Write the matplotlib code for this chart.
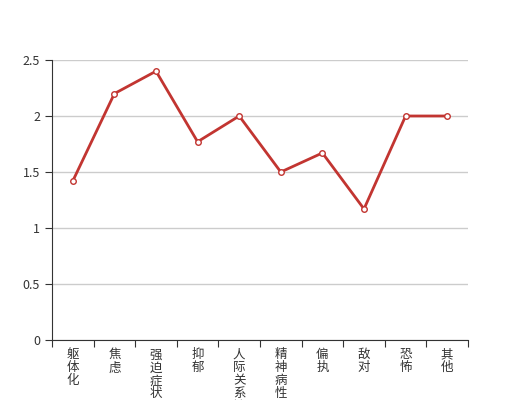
import matplotlib
matplotlib.use('Agg')
import matplotlib.pyplot as plt

plt.rcParams['font.family'] = ['Noto Sans CJK SC', 'DejaVu Sans']

categories = ['躯体化', '焦虑', '强迫症状', '抑郁', '人际关系敏感', '精神病性', '偏执', '敌对', '恐怖', '其他']
values = [1.42, 2.2, 2.4, 1.77, 2.0, 1.5, 1.67, 1.17, 2.0, 2.0]
yticks = [0, 0.5, 1, 1.5, 2, 2.5]
ytick_labels = ['0', '0.5', '1', '1.5', '2', '2.5']

fig = plt.figure(figsize=(5.2, 4), dpi=100)
ax = fig.add_axes([0.1, 0.15, 0.8, 0.7])

x = [i + 0.5 for i in range(len(categories))]
ax.plot(x, values, color='#c23531', lw=2, marker='o', ms=4,
        mfc='white', mec='#c23531', mew=1, zorder=3, clip_on=False)

ax.set_xlim(0, len(categories))
ax.set_ylim(0, 2.5)
ax.set_yticks(yticks)
ax.set_yticklabels(ytick_labels)
ax.yaxis.grid(True, color='#cccccc', lw=1)
ax.set_axisbelow(True)

ax.set_xticks(range(len(categories) + 1))
ax.set_xticklabels([])
ax.set_xticks(x, minor=True)
ax.set_xticklabels(['\n'.join(c) for c in categories], minor=True,
                   va='top', linespacing=1.0)
ax.tick_params(axis='x', which='minor', length=0, pad=6, labelsize=9, colors='#333333')
ax.tick_params(axis='x', which='major', length=5, color='#333333')
ax.tick_params(axis='y', length=5, color='#333333', labelsize=9, labelcolor='#333333')

for s in ['top', 'right']:
    ax.spines[s].set_visible(False)
for s in ['left', 'bottom']:
    ax.spines[s].set_color('#333333')

fig.savefig('out.png')
